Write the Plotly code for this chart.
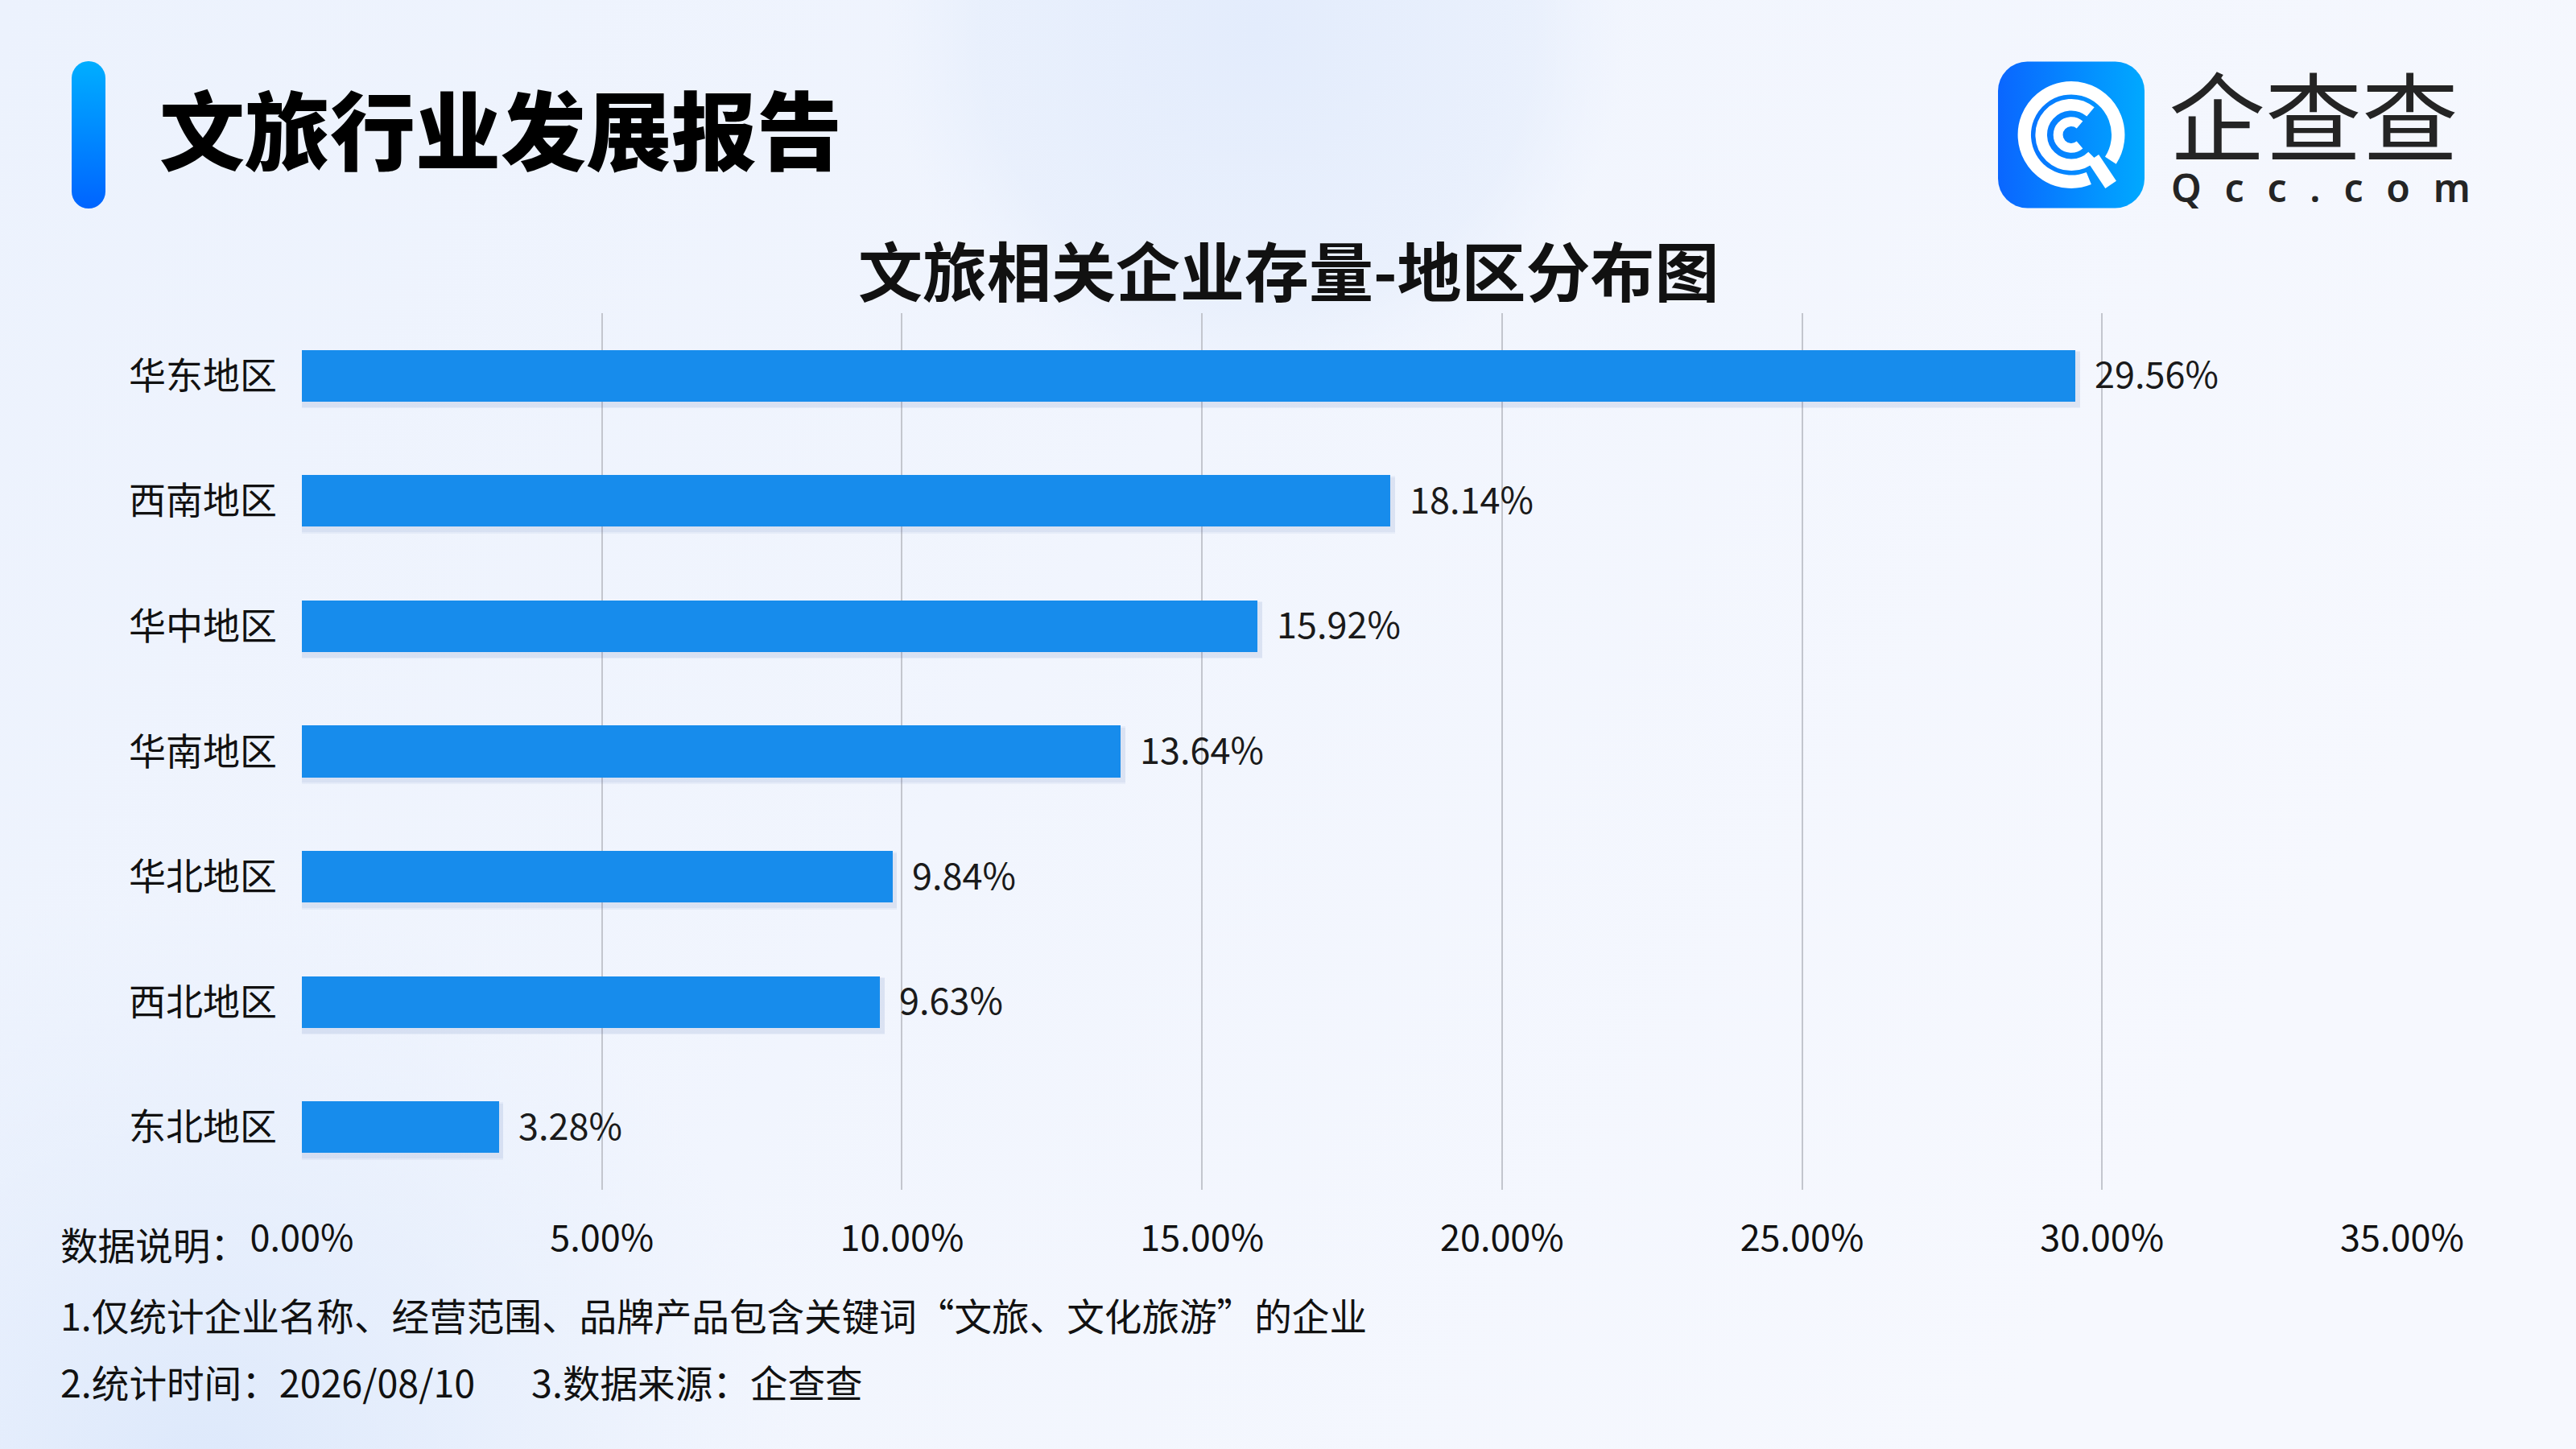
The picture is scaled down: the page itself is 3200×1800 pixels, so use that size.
import base64, math
import plotly.graph_objects as go

# ---------------- data ----------------
regions = ["华东地区", "西南地区", "华中地区", "华南地区", "华北地区", "西北地区", "东北地区"]
shares = [29.56, 18.14, 15.92, 13.64, 9.84, 9.63, 3.28]
x_ticks = [0, 5, 10, 15, 20, 25, 30, 35]

header_text = "文旅行业发展报告"
chart_title = "文旅相关企业存量-地区分布图"
note_lines = [
    "数据说明：",
    "1.仅统计企业名称、经营范围、品牌产品包含关键词“文旅、文化旅游”的企业",
    "2.统计时间：2026/08/10\u3000\u20023.数据来源：企查查",
]
brand_cn = "企查查"
brand_en = "\u2002\u200a".join(list("Qcc.com"))

# ---------------- geometry helpers ----------------
FW, FH = 3200, 1800
L, R, T, B = 375, 2984, 389, 1478
PW, PH = R - L, B - T


def px(x):
    return (x - L) / PW


def py(y):
    return (B - y) / PH


def svg_uri(svg):
    return "data:image/svg+xml;base64," + base64.b64encode(svg.encode("utf-8")).decode()


FONT = "Noto Sans CJK SC, Noto Sans, sans-serif"
BAR_COLOR = "#178CEC"

# ---------------- decorative svgs ----------------
bg_svg = f"""<svg xmlns="http://www.w3.org/2000/svg" width="{FW}" height="{FH}" viewBox="0 0 {FW} {FH}">
<defs>
<linearGradient id="g" x1="0" y1="0" x2="1" y2="0.35">
<stop offset="0" stop-color="#ECF2FD"/><stop offset="1" stop-color="#F6F8FE"/>
</linearGradient>
<radialGradient id="c1" cx="1560" cy="40" r="460" gradientUnits="userSpaceOnUse">
<stop offset="0" stop-color="#E3ECFC" stop-opacity="1"/>
<stop offset="0.75" stop-color="#E6EEFC" stop-opacity="0.7"/>
<stop offset="1" stop-color="#E9F0FD" stop-opacity="0"/>
</radialGradient>
<radialGradient id="c2" cx="250" cy="1850" r="750" gradientUnits="userSpaceOnUse">
<stop offset="0" stop-color="#DCE8FB" stop-opacity="1"/>
<stop offset="1" stop-color="#E4EDFC" stop-opacity="0"/>
</radialGradient>
</defs>
<rect width="{FW}" height="{FH}" fill="url(#g)"/>
<rect width="{FW}" height="{FH}" fill="url(#c1)"/>
<rect width="{FW}" height="{FH}" fill="url(#c2)"/>
</svg>"""

accent_svg = """<svg xmlns="http://www.w3.org/2000/svg" width="42" height="183" viewBox="0 0 42 183">
<defs><linearGradient id="a" x1="0" y1="0" x2="0" y2="1">
<stop offset="0" stop-color="#00AEFF"/><stop offset="1" stop-color="#0064FF"/>
</linearGradient></defs>
<rect x="0" y="0" width="42" height="183" rx="21" ry="21" fill="url(#a)"/>
</svg>"""


def arc(r, a0, a1):
    x0 = 50 + r * math.cos(math.radians(a0))
    y0 = 50 + r * math.sin(math.radians(a0))
    x1 = 50 + r * math.cos(math.radians(a1))
    y1 = 50 + r * math.sin(math.radians(a1))
    large = 1 if (a1 - a0) > 180 else 0
    return f"M{x0:.2f},{y0:.2f} A{r},{r} 0 {large} 1 {x1:.2f},{y1:.2f}"


logo_svg = f"""<svg xmlns="http://www.w3.org/2000/svg" width="182" height="183" viewBox="0 0 100 100">
<defs><linearGradient id="b" x1="0" y1="0" x2="1" y2="0">
<stop offset="0" stop-color="#0A66FF"/><stop offset="1" stop-color="#00A9FF"/>
</linearGradient></defs>
<rect x="0" y="0" width="100" height="100" rx="20" ry="20" fill="url(#b)"/>
<g fill="none" stroke="#FFFFFF" stroke-linecap="butt">
<path d="{arc(32, 68, 393)}" stroke-width="9"/>
<path d="M65,66 L77,84" stroke-width="9"/>
<path d="{arc(20.5, 45, 310)}" stroke-width="8"/>
<path d="{arc(9, 50, 310)}" stroke-width="6.5"/>
</g>
</svg>"""

# ---------------- figure ----------------
fig = go.Figure()

# soft shadow layers under the bars
for w, off, op in [(0.46, -0.20, 0.05), (0.44, -0.19, 0.06)]:
    fig.add_trace(go.Bar(
        x=[v + 0.08 for v in shares], y=regions, orientation="h",
        width=w, offset=off,
        marker=dict(color=f"rgba(40,70,150,{op})", line=dict(width=0)),
        hoverinfo="skip", showlegend=False,
    ))

fig.add_trace(go.Bar(
    x=shares, y=regions, orientation="h",
    width=0.413, offset=-0.2065,
    marker=dict(color=BAR_COLOR, line=dict(width=0)),
    showlegend=False,
))

annotations = []
for v, r in zip(shares, regions):
    annotations.append(dict(
        x=v, y=r, xref="x", yref="y", text=f"{v:.2f}%", showarrow=False,
        xanchor="left", yanchor="middle", xshift=22, yshift=4,
        font=dict(family=FONT, size=45, color="#1A1A1A"),
    ))

# header
annotations.append(dict(
    x=px(196), y=py(157), xref="paper", yref="paper", text=header_text,
    showarrow=False, xanchor="left", yanchor="middle",
    font=dict(family=FONT, size=106, color="#000000", weight=900),
))
# chart title
annotations.append(dict(
    x=px(1601), y=py(333), xref="paper", yref="paper", text=chart_title,
    showarrow=False, xanchor="center", yanchor="middle",
    font=dict(family=FONT, size=80, color="#111111", weight=700),
))
# brand text
annotations.append(dict(
    x=px(2692), y=py(140), xref="paper", yref="paper", text=brand_cn,
    showarrow=False, xanchor="left", yanchor="middle",
    font=dict(family=FONT, size=120, color="#242424", weight=400),
))
annotations.append(dict(
    x=px(2883), y=py(232), xref="paper", yref="paper", text=brand_en,
    showarrow=False, xanchor="center", yanchor="middle",
    font=dict(family="Noto Sans, sans-serif", size=48, color="#242424", weight=600),
))
# notes
for txt, yy in zip(note_lines, [1544, 1632, 1715]):
    annotations.append(dict(
        x=px(73), y=py(yy), xref="paper", yref="paper", text=txt,
        showarrow=False, xanchor="left", yanchor="middle",
        font=dict(family=FONT, size=46.6, color="#111111"),
    ))

images = [
    dict(source=svg_uri(bg_svg), xref="paper", yref="paper",
         x=px(0), y=py(0), sizex=FW / PW, sizey=FH / PH,
         xanchor="left", yanchor="top", sizing="stretch", layer="below"),
    dict(source=svg_uri(accent_svg), xref="paper", yref="paper",
         x=px(89), y=py(76), sizex=42 / PW, sizey=183 / PH,
         xanchor="left", yanchor="top", sizing="stretch", layer="above"),
    dict(source=svg_uri(logo_svg), xref="paper", yref="paper",
         x=px(2482), y=py(76), sizex=182 / PW, sizey=183 / PH,
         xanchor="left", yanchor="top", sizing="stretch", layer="above"),
]

fig.update_layout(
    width=FW, height=FH,
    margin=dict(l=L, r=FW - R, t=T, b=FH - B, pad=0),
    paper_bgcolor="#EEF3FD", plot_bgcolor="rgba(0,0,0,0)",
    barmode="overlay", bargap=0,
    showlegend=False,
    annotations=annotations, images=images,
    font=dict(family=FONT, color="#111111"),
)
fig.update_xaxes(
    range=[0, 35], tickvals=x_ticks, ticktext=[f"{t:.2f}%" for t in x_ticks],
    showgrid=True, gridcolor="#C3C6CE", gridwidth=2, zeroline=False,
    showline=False, ticks="", ticklabelstandoff=30,
    tickfont=dict(family=FONT, size=45, color="#111111"), fixedrange=True,
)
fig.update_yaxes(
    categoryorder="array", categoryarray=regions, autorange="reversed",
    showgrid=False, zeroline=False, showline=False, ticks="",
    ticklabelstandoff=30,
    tickfont=dict(family=FONT, size=46, color="#111111"), fixedrange=True,
)

fig.write_html(
    "out.html",
    config={"displayModeBar": False},
    post_script="document.body.style.margin='0';document.body.style.overflow='hidden';",
)
